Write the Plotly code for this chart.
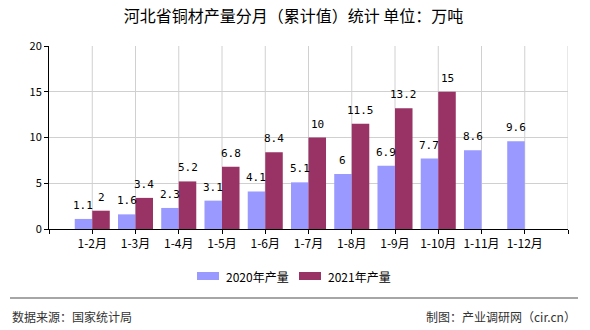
import plotly.graph_objects as go

categories = ["1-2月", "1-3月", "1-4月", "1-5月", "1-6月", "1-7月", "1-8月", "1-9月", "1-10月", "1-11月", "1-12月"]
values_2020 = [1.1, 1.6, 2.3, 3.1, 4.1, 5.1, 6, 6.9, 7.7, 8.6, 9.6]
values_2021 = [2, 3.4, 5.2, 6.8, 8.4, 10, 11.5, 13.2, 15, None, None]
series_names = ["2020年产量", "2021年产量"]
colors = ["#9999FF", "#993366"]
y_ticks = [0, 5, 10, 15, 20]

x_pos = list(range(1, len(categories) + 1))
bargap = 0.19
half_w = (1 - bargap) / 4  # center offset of each bar within a group

def fmt(v):
    if v is None:
        return ""
    return ("%g" % v)

fig = go.Figure()
for name, vals, col in zip(series_names, [values_2020, values_2021], colors):
    fig.add_trace(go.Bar(
        x=x_pos, y=vals, name=name, marker_color=col, marker_line_width=0,
        showlegend=False,
    ))

# value labels above bars
for k, vals in enumerate([values_2020, values_2021]):
    off = -half_w if k == 0 else half_w
    for xv, v in zip(x_pos, vals):
        if v is None:
            continue
        fig.add_annotation(x=xv + off, y=v, xref="x", yref="y", text=fmt(v),
                           showarrow=False, yanchor="bottom", xanchor="center", yshift=5,
                           font=dict(family="DejaVu Sans Mono", size=11, color="#000"))

fig.update_layout(
    width=590, height=330,
    margin=dict(l=49, r=22, t=46, b=101),
    paper_bgcolor="white", plot_bgcolor="white",
    barmode="group", bargap=bargap, bargroupgap=0,
    font=dict(family="Noto Sans CJK SC", size=12, color="#000"),
    title=dict(text="河北省铜材产量分月（累计值）统计 单位：万吨", x=293.5 / 590, xanchor="center",
               y=1 - 16.5 / 330, yanchor="middle",
               font=dict(family="Noto Sans CJK SC", size=16, color="#000")),
    xaxis=dict(range=[0, 12], tickmode="array", tickvals=list(range(0, 13)),
               ticktext=[""] + categories + [""],
               showgrid=False, showline=True, linecolor="#000", linewidth=1,
               ticks="outside", ticklen=4, tickcolor="#000",
               tickfont=dict(size=12, color="#000"), zeroline=False),
    yaxis=dict(range=[0, 20], tickmode="array", tickvals=y_ticks,
               showgrid=True, gridcolor="#d0d0d0", gridwidth=1,
               showline=True, linecolor="#000", linewidth=1,
               ticks="outside", ticklen=4, tickcolor="#000",
               tickfont=dict(size=11, color="#000"), zeroline=False),
)

# vertical gridlines at category centers and right edge
for xv in x_pos + [12]:
    fig.add_shape(type="line", xref="x", yref="y", x0=xv, x1=xv, y0=0, y1=20,
                  line=dict(color="#d0d0d0", width=1), layer="below")

# custom legend
legend_items = [(series_names[0], colors[0], 197, 224), (series_names[1], colors[1], 299, 326)]
for name, col, rx, tx in legend_items:
    fig.add_shape(type="rect", xref="paper", yref="paper",
                  x0=(rx - 49) / 519, x1=(rx + 22 - 49) / 519,
                  y0=(229 - 280) / 183, y1=(229 - 272) / 183,
                  fillcolor=col, line_width=0)
    fig.add_annotation(xref="paper", yref="paper", x=(tx - 49) / 519, y=(229 - 276) / 183,
                       text=name, showarrow=False, xanchor="left", yanchor="middle",
                       font=dict(family="Noto Sans CJK SC", size=12, color="#000"))

# footer separator and text
fig.add_shape(type="line", xref="paper", yref="paper",
              x0=(10 - 49) / 519, x1=(578 - 49) / 519,
              y0=(229 - 298) / 183, y1=(229 - 298) / 183,
              line=dict(color="#888", width=1.5))
fig.add_annotation(xref="paper", yref="paper", x=(10 - 49) / 519, y=(229 - 316) / 183,
                   text="数据来源：国家统计局", showarrow=False, xanchor="left", yanchor="middle",
                   font=dict(family="Noto Sans CJK SC", size=12, color="#333"))
fig.add_annotation(xref="paper", yref="paper", x=(578 - 49) / 519, y=(229 - 316) / 183,
                   text="制图：产业调研网（cir.cn）", showarrow=False, xanchor="right", yanchor="middle",
                   font=dict(family="Noto Sans CJK SC", size=12, color="#333"))

fig.write_html("out.html")
